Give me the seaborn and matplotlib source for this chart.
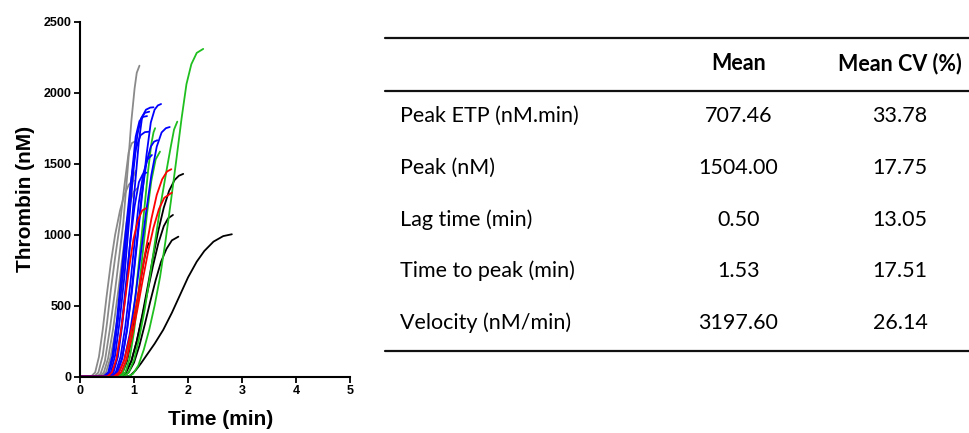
import matplotlib
matplotlib.use("Agg")
import matplotlib.pyplot as plt
from matplotlib.lines import Line2D
import pandas as pd
import seaborn as sns

# Thrombin generation curves (time in min, thrombin in nM), one list per run,
# each run followed up to its peak.
grey_runs = [
    [(0, 0), (0.30, 0), (0.38, 20), (0.46, 110), (0.55, 330), (0.65, 610), (0.72, 830),
     (0.80, 1080), (0.88, 1450), (0.95, 1800), (1.01, 2030), (1.05, 2140), (1.10, 2190)],
    [(0, 0), (0.26, 0), (0.34, 30), (0.42, 150), (0.50, 380), (0.57, 610), (0.65, 840),
     (0.74, 1080), (0.82, 1340), (0.90, 1580), (0.96, 1645), (1.01, 1655)],
    [(0, 0), (0.36, 0), (0.44, 30), (0.52, 130), (0.61, 330), (0.71, 610), (0.79, 860),
     (0.86, 1080), (0.93, 1230), (0.99, 1300), (1.06, 1327)],
    [(0, 0), (0.40, 0), (0.48, 30), (0.56, 130), (0.66, 330), (0.77, 610), (0.83, 840),
     (0.89, 1080), (0.95, 1300), (0.99, 1410), (1.03, 1450)],
    [(0, 0), (0.20, 0), (0.28, 30), (0.35, 140), (0.42, 330), (0.49, 560), (0.57, 800),
     (0.65, 1000), (0.74, 1170), (0.82, 1280), (0.90, 1350), (0.96, 1375), (1.00, 1380)],
]

black_runs = [
    [(0, 0), (0.75, 0), (0.85, 30), (0.95, 110), (1.05, 250), (1.15, 430), (1.25, 630),
     (1.35, 840), (1.45, 1030), (1.55, 1190), (1.65, 1310), (1.75, 1385), (1.83, 1415), (1.91, 1428)],
    [(0, 0), (0.75, 0), (0.85, 30), (0.95, 110), (1.05, 250), (1.15, 420), (1.25, 600),
     (1.35, 780), (1.45, 940), (1.55, 1060), (1.63, 1115), (1.72, 1139)],
    [(0, 0), (0.80, 0), (0.90, 30), (1.00, 100), (1.10, 220), (1.20, 370), (1.30, 530),
     (1.40, 680), (1.50, 810), (1.60, 900), (1.70, 960), (1.82, 986)],
    [(0, 0), (0.85, 0), (0.93, 8), (1.03, 45), (1.13, 95), (1.23, 150), (1.38, 232),
     (1.54, 330), (1.70, 450), (1.85, 575), (2.00, 700), (2.16, 810), (2.30, 885),
     (2.47, 951), (2.65, 990), (2.81, 1003)],
    [(0, 0), (0.70, 0), (0.79, 30), (0.87, 110), (0.95, 260), (1.03, 450), (1.11, 650),
     (1.18, 810), (1.23, 900), (1.27, 940)],
]

green_runs = [
    [(0, 0), (0.88, 0), (0.98, 20), (1.08, 80), (1.18, 190), (1.28, 330), (1.38, 500),
     (1.48, 700), (1.58, 950), (1.68, 1230), (1.78, 1520), (1.88, 1820), (1.97, 2060),
     (2.06, 2200), (2.16, 2280), (2.28, 2308)],
    [(0, 0), (0.80, 0), (0.90, 30), (1.00, 120), (1.10, 280), (1.20, 480), (1.30, 720),
     (1.40, 980), (1.50, 1230), (1.60, 1450), (1.68, 1620), (1.74, 1740), (1.80, 1796)],
    [(0, 0), (0.70, 0), (0.79, 30), (0.87, 130), (0.95, 320), (1.03, 580), (1.11, 880),
     (1.19, 1180), (1.26, 1450), (1.32, 1640), (1.36, 1720), (1.39, 1750)],
    [(0, 0), (0.75, 0), (0.84, 30), (0.92, 130), (1.00, 320), (1.08, 580), (1.16, 870),
     (1.24, 1150), (1.32, 1380), (1.40, 1530), (1.48, 1585)],
]

blue_runs = [
    [(0, 0), (0.58, 0), (0.68, 30), (0.78, 130), (0.87, 330), (0.96, 600), (1.05, 920),
     (1.14, 1250), (1.23, 1560), (1.31, 1790), (1.38, 1880), (1.44, 1910), (1.50, 1920)],
    [(0, 0), (0.53, 0), (0.62, 30), (0.70, 140), (0.78, 360), (0.86, 650), (0.94, 1000),
     (1.02, 1360), (1.09, 1660), (1.15, 1830), (1.22, 1880), (1.30, 1895), (1.36, 1897)],
    [(0, 0), (0.48, 0), (0.57, 30), (0.65, 150), (0.73, 380), (0.82, 700), (0.90, 1060),
     (0.98, 1420), (1.06, 1700), (1.13, 1820), (1.20, 1858), (1.28, 1866)],
    [(0, 0), (0.45, 0), (0.54, 30), (0.62, 150), (0.70, 390), (0.79, 720), (0.88, 1080),
     (0.96, 1430), (1.03, 1690), (1.10, 1800), (1.17, 1830), (1.24, 1835)],
    [(0, 0), (0.62, 0), (0.72, 30), (0.82, 120), (0.92, 300), (1.02, 550), (1.12, 850),
     (1.22, 1150), (1.32, 1420), (1.42, 1620), (1.51, 1720), (1.59, 1750), (1.66, 1758)],
    [(0, 0), (0.60, 0), (0.69, 30), (0.78, 130), (0.87, 330), (0.96, 620), (1.05, 950),
     (1.14, 1270), (1.23, 1510), (1.31, 1620), (1.37, 1655), (1.43, 1665)],
    [(0, 0), (0.57, 0), (0.66, 30), (0.75, 140), (0.84, 360), (0.93, 650), (1.01, 950),
     (1.09, 1230), (1.17, 1430), (1.25, 1530), (1.33, 1561)],
    [(0, 0), (0.52, 0), (0.61, 30), (0.69, 140), (0.77, 360), (0.85, 650), (0.93, 950),
     (1.01, 1200), (1.09, 1370), (1.16, 1425), (1.23, 1437)],
    [(0, 0), (0.43, 0), (0.52, 30), (0.60, 150), (0.68, 390), (0.76, 700), (0.85, 1040),
     (0.94, 1370), (1.03, 1600), (1.12, 1700), (1.20, 1722), (1.27, 1725)],
]

red_runs = [
    [(0, 0), (0.50, 0), (0.59, 30), (0.67, 120), (0.75, 300), (0.83, 530), (0.91, 770),
     (0.99, 970), (1.07, 1100), (1.15, 1170), (1.22, 1186)],
    [(0, 0), (0.62, 0), (0.72, 30), (0.82, 120), (0.92, 280), (1.02, 460), (1.12, 680),
     (1.22, 900), (1.32, 1110), (1.42, 1280), (1.52, 1390), (1.61, 1445), (1.69, 1461)],
    [(0, 0), (0.66, 0), (0.76, 30), (0.86, 120), (0.96, 280), (1.06, 470), (1.16, 680),
     (1.26, 880), (1.36, 1050), (1.46, 1180), (1.56, 1260), (1.70, 1296)],
]

# Summary table
parameters = ["Peak ETP (nM.min)", "Peak (nM)", "Lag time (min)",
              "Time to peak (min)", "Velocity (nM/min)"]
means = ["707.46", "1504.00", "0.50", "1.53", "3197.60"]
mean_cv = ["33.78", "17.75", "13.05", "17.51", "26.14"]

# Long-format table for seaborn
groups = {"grey": grey_runs, "black": black_runs, "green": green_runs,
          "blue": blue_runs, "red": red_runs}
rows = []
for g, runs in groups.items():
    for i, run in enumerate(runs):
        for order, (t, v) in enumerate(run):
            rows.append({"group": g, "run": f"{g}{i}", "order": order,
                         "time": t, "thrombin": v})
df = pd.DataFrame(rows)

palette = {"grey": "#8a8a8a", "black": "#000000", "green": "#1fbf1f",
           "blue": "#0000ff", "red": "#ff0000"}

sns.set_style("ticks", rc={"axes.edgecolor": "black", "axes.labelcolor": "black",
                           "text.color": "black", "xtick.color": "black",
                           "ytick.color": "black"})
plt.rcParams["font.family"] = ["Liberation Sans", "DejaVu Sans"]

fig = plt.figure(figsize=(9.7, 4.33), dpi=100)
ax = fig.add_axes([0.0825, 0.130, 0.2785, 0.820])

sns.lineplot(data=df, x="time", y="thrombin", hue="group", units="run",
             estimator=None, sort=False, palette=palette,
             hue_order=["grey", "black", "green", "blue", "red"],
             linewidth=1.3, legend=False, ax=ax)

ax.set_xlim(0, 5)
ax.set_ylim(0, 2500)
ax.set_xticks(range(0, 6))
ax.set_yticks(range(0, 2501, 500))
ax.set_xlabel("Time (min)", fontsize=15, fontweight="bold", labelpad=9)
ax.xaxis.set_label_coords(0.52, -0.095)
ax.set_ylabel("Thrombin (nM)", fontsize=15, fontweight="bold", labelpad=6)
for lab in ax.get_xticklabels() + ax.get_yticklabels():
    lab.set_fontweight("bold")
ax.tick_params(axis="both", labelsize=9, length=4, width=1.3, pad=2)
for side in ("left", "bottom"):
    ax.spines[side].set_linewidth(1.5)
sns.despine(ax=ax)

# Table drawn in figure coordinates
tfont = ["Lato", "DejaVu Sans"]
tsize = 15.5
x0, x1 = 0.397, 1.0
for y in (0.912, 0.790, 0.189):
    fig.add_artist(Line2D([x0, x1], [y, y], color="#111111", lw=1.6))

col_mean, col_cv = 0.761, 0.928
fig.text(col_mean, 0.854, "Mean", ha="center", va="center", fontsize=tsize,
         fontweight="bold", family=tfont)
fig.text(col_cv, 0.854, "Mean CV (%)", ha="center", va="center", fontsize=tsize,
         fontweight="bold", family=tfont)

row_y = [0.732, 0.612, 0.492, 0.374, 0.254]
for y, p, m, c in zip(row_y, parameters, means, mean_cv):
    fig.text(0.412, y, p, ha="left", va="center", fontsize=tsize, family=tfont)
    fig.text(col_mean, y, m, ha="center", va="center", fontsize=tsize, family=tfont)
    fig.text(col_cv, y, c, ha="center", va="center", fontsize=tsize, family=tfont)

fig.savefig("out.png", dpi=100)
